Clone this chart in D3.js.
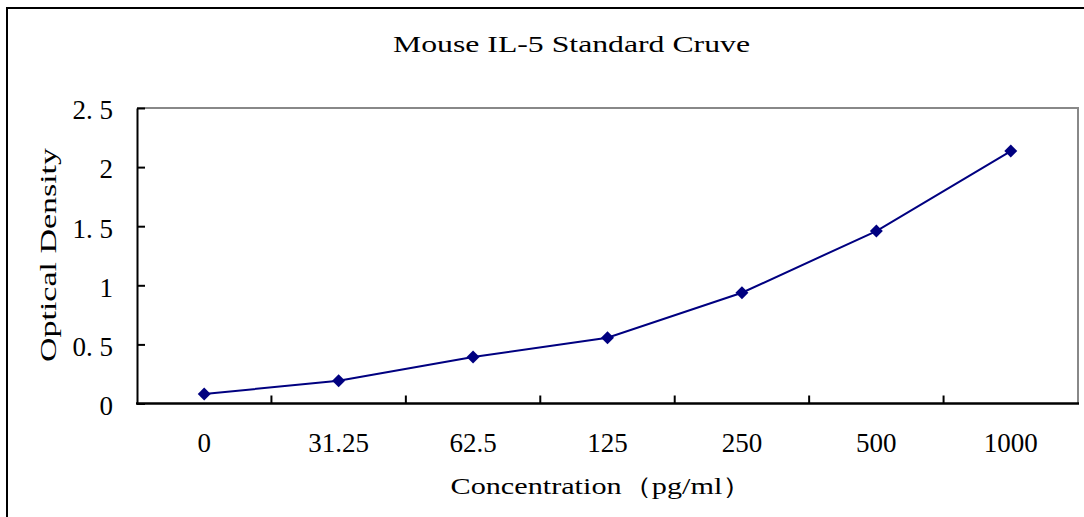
<!DOCTYPE html>
<html>
<head>
<meta charset="utf-8">
<script src="https://cdn.jsdelivr.net/npm/d3@7"></script>
<style>
  html, body { margin: 0; padding: 0; background: #fff; }
  svg { display: block; }
</style>
</head>
<body>
<svg id="chart" width="1084" height="517"></svg>
<script>
// ---- data ----
const categories = ["0", "31.25", "62.5", "125", "250", "500", "1000"];
const values = [0.080, 0.193, 0.393, 0.557, 0.937, 1.459, 2.136];
const yTicks = [0, 0.5, 1, 1.5, 2, 2.5];
const yTickLabels = ["0", "0. 5", "1", "1. 5", "2", "2. 5"];
const titleText = "Mouse IL-5 Standard Cruve";
const xTitleText = "Concentration（pg/ml）";
const yTitleText = "Optical Density";

// ---- layout ----
const W = 1084, H = 517;
const plot = { left: 137, right: 1078, top: 108, bottom: 403.5 };
const svg = d3.select("#chart");
const serifFont = "'Liberation Serif', 'DejaVu Serif', serif";

// outer chart border (extends past right and bottom edges)
svg.append("rect")
  .attr("x", 7).attr("y", 8)
  .attr("width", W + 20).attr("height", H + 20)
  .attr("fill", "#fff").attr("stroke", "#000").attr("stroke-width", 2);

const x = d3.scaleBand().domain(categories).range([plot.left, plot.right]);
const y = d3.scaleLinear().domain([0, 2.5]).range([plot.bottom, plot.top]);

// plot area frame: top & right gray
svg.append("path")
  .attr("d", `M${plot.left},${plot.top}H${plot.right}V${plot.bottom}`)
  .attr("fill", "none").attr("stroke", "#888").attr("stroke-width", 2);

// y axis
const yAxis = d3.axisLeft(y).tickValues(yTicks).tickSizeInner(-8).tickSizeOuter(0)
  .tickFormat((d, i) => yTickLabels[i]);
const gy = svg.append("g").attr("transform", `translate(${plot.left},0)`).call(yAxis);
gy.select(".domain").attr("stroke", "#000").attr("stroke-width", 2);
gy.selectAll(".tick line").attr("stroke", "#000").attr("stroke-width", 2);
gy.selectAll(".tick text")
  .attr("x", -24).attr("dy", "0.40em")
  .attr("font-family", serifFont).attr("font-size", 27).attr("fill", "#000")
  .attr("text-anchor", "end");

// x axis (labels at band centers, ticks at band boundaries)
const xAxis = d3.axisBottom(x).tickSize(0).tickPadding(0);
const gx = svg.append("g").attr("transform", `translate(0,${plot.bottom})`).call(xAxis);
gx.select(".domain").remove();
gx.selectAll(".tick text")
  .attr("y", 48).attr("dy", 0)
  .attr("font-family", serifFont).attr("font-size", 27).attr("fill", "#000");
gx.selectAll(".bound")
  .data(categories.slice(1))
  .join("line")
  .attr("class", "bound")
  .attr("x1", d => x(d)).attr("x2", d => x(d))
  .attr("y1", 0).attr("y2", -8)
  .attr("stroke", "#000").attr("stroke-width", 2);
gx.append("line")
  .attr("x1", plot.left - 1).attr("x2", plot.right + 1)
  .attr("y1", 0).attr("y2", 0)
  .attr("stroke", "#000").attr("stroke-width", 2.5);
gy.select(".domain").raise();

// series line
const cx = d => x(d) + x.bandwidth() / 2;
const line = d3.line().x((d, i) => cx(categories[i])).y(d => y(d));
svg.append("path")
  .datum(values)
  .attr("d", line)
  .attr("fill", "none").attr("stroke", "#000080").attr("stroke-width", 2);

// diamond markers
const diamond = d3.symbol().type(d3.symbolSquare).size(84);
svg.selectAll(".pt")
  .data(values)
  .join("path")
  .attr("class", "pt")
  .attr("d", diamond)
  .attr("transform", (d, i) => `translate(${cx(categories[i])},${y(d)}) rotate(45)`)
  .attr("fill", "#000080");

// titles
svg.append("text")
  .attr("x", (393 + 750) / 2).attr("y", 52)
  .attr("text-anchor", "middle")
  .attr("font-family", serifFont).attr("font-size", 24)
  .attr("textLength", 357).attr("lengthAdjust", "spacingAndGlyphs")
  .text(titleText);

svg.append("text")
  .attr("x", (450 + 753) / 2).attr("y", 494)
  .attr("text-anchor", "middle")
  .attr("font-family", serifFont).attr("font-size", 24)
  .attr("textLength", 302).attr("lengthAdjust", "spacingAndGlyphs")
  .text(xTitleText);

svg.append("text")
  .attr("transform", `translate(56,${(148 + 362) / 2}) rotate(-90)`)
  .attr("text-anchor", "middle")
  .attr("font-family", serifFont).attr("font-size", 24)
  .attr("textLength", 214).attr("lengthAdjust", "spacingAndGlyphs")
  .text(yTitleText);
</script>
</body>
</html>
